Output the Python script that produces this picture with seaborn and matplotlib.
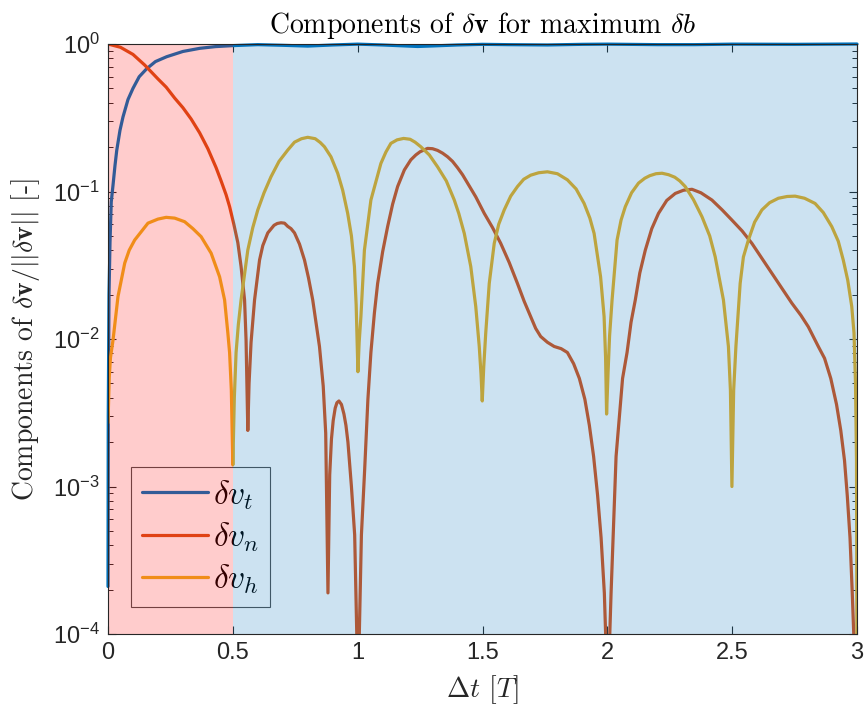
import numpy as np
import pandas as pd
import matplotlib
matplotlib.use("Agg")
import matplotlib.pyplot as plt
from matplotlib.ticker import LogLocator, NullLocator, FixedLocator, FixedFormatter
import seaborn as sns

# ---------------------------------------------------------------------------
# Normalised velocity-change components versus transfer time
# ---------------------------------------------------------------------------
t_t = [0.000, 0.001, 0.004, 0.008, 0.013, 0.020, 0.028, 0.035, 0.048, 0.060,
       0.080, 0.100, 0.125, 0.155, 0.190, 0.235, 0.300, 0.368, 0.430, 0.500,
       0.600, 0.700, 0.800, 0.900, 1.000, 1.100, 1.240, 1.300, 1.400, 1.500,
       1.600, 1.760, 1.900, 2.000, 2.200, 2.350, 2.500, 2.750, 2.900, 3.000]
dv_t = [0.00021, 0.003, 0.02, 0.045, 0.085, 0.11, 0.15, 0.19, 0.26, 0.32,
        0.42, 0.50, 0.60, 0.68, 0.76, 0.82, 0.89, 0.935, 0.96, 0.975,
        0.99, 0.98, 0.968, 0.985, 0.998, 0.985, 0.962, 0.97, 0.985, 0.995,
        0.99, 0.985, 0.995, 0.998, 0.99, 0.99, 0.998, 0.995, 0.998, 1.0]

t_n = [0.000, 0.050, 0.100, 0.147, 0.200, 0.233, 0.267, 0.300, 0.333, 0.367,
       0.400, 0.433, 0.453, 0.473, 0.487, 0.504, 0.520, 0.533, 0.547, 0.553,
       0.557, 0.560, 0.565, 0.573, 0.587, 0.607, 0.620, 0.640, 0.665, 0.678,
       0.693, 0.707, 0.720, 0.733, 0.747, 0.767, 0.787, 0.803, 0.820, 0.847,
       0.862, 0.872, 0.881, 0.888, 0.895, 0.902, 0.910, 0.917, 0.925, 0.935,
       0.945, 0.953, 0.961, 0.975, 0.988, 0.997, 1.0015, 1.006, 1.015, 1.028,
       1.041, 1.053, 1.067, 1.080, 1.100, 1.120, 1.140, 1.160, 1.187, 1.213,
       1.233, 1.250, 1.280, 1.300, 1.320, 1.340, 1.360, 1.380, 1.400, 1.420,
       1.440, 1.473, 1.507, 1.540, 1.573, 1.607, 1.640, 1.667, 1.693, 1.713,
       1.733, 1.760, 1.787, 1.815, 1.840, 1.865, 1.888, 1.910, 1.928, 1.945,
       1.961, 1.975, 1.988, 1.995, 2.001, 2.008, 2.015, 2.035, 2.061, 2.079,
       2.095, 2.112, 2.130, 2.152, 2.178, 2.205, 2.238, 2.272, 2.305, 2.339,
       2.375, 2.419, 2.460, 2.499, 2.540, 2.579, 2.620, 2.659, 2.700, 2.739,
       2.775, 2.805, 2.845, 2.870, 2.895, 2.918, 2.935, 2.950, 2.961, 2.972,
       2.981, 2.988, 2.992]
dv_n = [1.00, 0.95, 0.85, 0.72, 0.58, 0.51, 0.43, 0.37, 0.31, 0.25,
        0.195, 0.145, 0.118, 0.095, 0.079, 0.060, 0.045, 0.031, 0.0184, 0.0098,
        0.0045, 0.0024, 0.005, 0.0095, 0.0184, 0.0343, 0.043, 0.0524, 0.059, 0.0607,
        0.0614, 0.061, 0.058, 0.056, 0.0524, 0.044, 0.0343, 0.026, 0.0184, 0.0089,
        0.0048, 0.0023, 0.00019, 0.0012, 0.0021, 0.0028, 0.0034, 0.0037, 0.0038, 0.0036,
        0.0031, 0.0026, 0.0020, 0.0010, 0.00047, 0.00009, 0.00001, 0.00009, 0.00047, 0.0013,
        0.0039, 0.0081, 0.015, 0.0238, 0.039, 0.0578, 0.082, 0.108, 0.14, 0.164,
        0.177, 0.186, 0.196, 0.195, 0.19, 0.182, 0.172, 0.16, 0.145, 0.13,
        0.114, 0.092, 0.0711, 0.057, 0.0445, 0.033, 0.0238, 0.018, 0.0142, 0.0118,
        0.0104, 0.0095, 0.0089, 0.0086, 0.0081, 0.0068, 0.0054, 0.0039, 0.0026, 0.0016,
        0.00087, 0.00045, 0.00019, 0.00008, 0.00001, 0.00008, 0.00019, 0.0016, 0.0054, 0.0081,
        0.013, 0.0184, 0.028, 0.040, 0.056, 0.0711, 0.087, 0.097, 0.102, 0.1035,
        0.098, 0.0875, 0.075, 0.064, 0.054, 0.0445, 0.035, 0.0279, 0.022, 0.0175,
        0.0145, 0.0121, 0.0089, 0.0074, 0.0054, 0.0036, 0.0024, 0.0015, 0.00087, 0.00045,
        0.00019, 0.00009, 0.00003]

t_h = [0.000, 0.005, 0.010, 0.020, 0.040, 0.067, 0.085, 0.107, 0.133, 0.160,
       0.200, 0.233, 0.267, 0.307, 0.340, 0.373, 0.413, 0.447, 0.467, 0.480,
       0.487, 0.494, 0.500, 0.506, 0.513, 0.522, 0.533, 0.560, 0.580, 0.600,
       0.625, 0.653, 0.685, 0.720, 0.747, 0.775, 0.800, 0.830, 0.850, 0.867,
       0.893, 0.920, 0.940, 0.960, 0.975, 0.987, 0.994, 1.001, 1.006, 1.013,
       1.027, 1.053, 1.093, 1.113, 1.133, 1.158, 1.184, 1.210, 1.230, 1.253,
       1.287, 1.320, 1.355, 1.387, 1.405, 1.427, 1.453, 1.473, 1.487, 1.494,
       1.499, 1.505, 1.513, 1.527, 1.547, 1.565, 1.587, 1.613, 1.640, 1.665,
       1.693, 1.725, 1.760, 1.800, 1.840, 1.875, 1.907, 1.930, 1.947, 1.973,
       1.987, 1.993, 1.997, 2.003, 2.009, 2.019, 2.039, 2.055, 2.072, 2.097,
       2.125, 2.150, 2.170, 2.195, 2.219, 2.245, 2.270, 2.290, 2.312, 2.345,
       2.379, 2.410, 2.432, 2.465, 2.485, 2.493, 2.499, 2.506, 2.515, 2.532,
       2.545, 2.565, 2.590, 2.619, 2.650, 2.685, 2.720, 2.752, 2.790, 2.832,
       2.865, 2.899, 2.925, 2.945, 2.963, 2.979, 2.988, 2.994, 2.998, 3.000]
dv_h = [0.0027, 0.0055, 0.0075, 0.0098, 0.0194, 0.0327, 0.040, 0.0469, 0.0534, 0.061,
        0.065, 0.0668, 0.066, 0.0624, 0.056, 0.0494, 0.0382, 0.0264, 0.0184, 0.011,
        0.0081, 0.0045, 0.0014, 0.0040, 0.0081, 0.0125, 0.0184, 0.0401, 0.057, 0.075,
        0.098, 0.126, 0.16, 0.191, 0.216, 0.228, 0.233, 0.228, 0.215, 0.201,
        0.172, 0.133, 0.102, 0.0711, 0.050, 0.031, 0.017, 0.0060, 0.0095, 0.0142,
        0.040, 0.0875, 0.155, 0.185, 0.212, 0.224, 0.229, 0.226, 0.216, 0.201,
        0.177, 0.147, 0.118, 0.0875, 0.071, 0.052, 0.031, 0.0166, 0.0089, 0.0058,
        0.0038, 0.0065, 0.011, 0.0238, 0.0445, 0.060, 0.075, 0.093, 0.108, 0.121,
        0.129, 0.134, 0.136, 0.132, 0.12, 0.104, 0.083, 0.066, 0.052, 0.0264,
        0.0142, 0.0075, 0.0031, 0.0060, 0.0105, 0.0184, 0.0469, 0.064, 0.0789, 0.098,
        0.114, 0.123, 0.128, 0.132, 0.133, 0.130, 0.125, 0.118, 0.108, 0.088,
        0.0675, 0.050, 0.0361, 0.0184, 0.0089, 0.0045, 0.0010, 0.0045, 0.0089, 0.0238,
        0.036, 0.0469, 0.062, 0.075, 0.084, 0.090, 0.0925, 0.093, 0.090, 0.083,
        0.072, 0.0578, 0.046, 0.0343, 0.025, 0.0166, 0.011, 0.005, 0.0015, 0.00005]

labels = [r"$\delta v_t$", r"$\delta v_n$", r"$\delta v_h$"]
line_colors = [(0.000, 0.447, 0.741), (0.850, 0.325, 0.098), (0.929, 0.694, 0.125)]

x_ticks = [0, 0.5, 1, 1.5, 2, 2.5, 3]
x_tick_labels = ["0", "0.5", "1", "1.5", "2", "2.5", "3"]

df = pd.concat([
    pd.DataFrame({"t": t_t, "value": dv_t, "component": labels[0]}),
    pd.DataFrame({"t": t_n, "value": dv_n, "component": labels[1]}),
    pd.DataFrame({"t": t_h, "value": dv_h, "component": labels[2]}),
], ignore_index=True)

# ---------------------------------------------------------------------------
sns.set_style("ticks")
plt.rcParams.update({
    "font.family": ["Liberation Sans", "DejaVu Sans"],
    "mathtext.fontset": "custom",
    "mathtext.rm": "Liberation Sans",
    "mathtext.it": "Liberation Sans:italic",
    "mathtext.bf": "Liberation Sans:bold",
    "axes.edgecolor": "#262626",
    "axes.linewidth": 0.8,
    "xtick.color": "#262626",
    "ytick.color": "#262626",
})

fig = plt.figure(figsize=(8.65, 7.13), dpi=100)
ax = fig.add_axes([108 / 865, 1 - 634 / 713, 749 / 865, 590 / 713])

sns.lineplot(data=df, x="t", y="value", hue="component", hue_order=labels,
             palette=line_colors, estimator=None, sort=False, linewidth=2.3,
             ax=ax, legend=False)
ax.lines[0].set_clip_on(False)
for ln in ax.lines:
    ln.set_zorder(2)
    ln.set_solid_joinstyle("round")

ax.set_yscale("log")
ax.set_xlim(0, 3)
ax.set_ylim(1e-4, 1)

# shaded phases (drawn over the curves, translucent)
ax.axvspan(0, 0.5, facecolor=(1, 0, 0), alpha=0.2, edgecolor="none", zorder=6)
ax.axvspan(0.5, 3, facecolor=(0.0, 0.447, 0.741), alpha=0.2, edgecolor="none", zorder=6)

ax.xaxis.set_major_locator(FixedLocator(x_ticks))
ax.xaxis.set_major_formatter(FixedFormatter(x_tick_labels))
ax.xaxis.set_minor_locator(NullLocator())
ax.yaxis.set_major_locator(LogLocator(base=10, numticks=10))
ax.yaxis.set_minor_locator(LogLocator(base=10, subs=np.arange(2, 10), numticks=20))

ax.tick_params(which="both", direction="in", top=True, right=True)
ax.tick_params(which="major", length=6, width=0.8, labelsize=17, pad=6,
               labelcolor="#262626")
ax.tick_params(which="minor", length=3.5, width=0.7)
for s in ax.spines.values():
    s.set_visible(True)
    s.set_zorder(7)

handles = ax.lines[:3]
leg = ax.legend(handles, labels, loc="lower left", bbox_to_anchor=(0.0307, 0.0458),
                borderaxespad=0, frameon=True, fancybox=False, fontsize=24,
                handlelength=2.0, handletextpad=0.15, labelspacing=0.26,
                borderpad=0.32)
leg.get_frame().set_facecolor("none")
leg.get_frame().set_edgecolor("#262626")
leg.get_frame().set_linewidth(0.8)
leg.set_zorder(5)
for txt in leg.get_texts():
    txt.set_math_fontfamily("cm")
    txt.set_color("black")

ax.set_title(r"Components of $\delta\mathbf{v}$ for maximum $\delta b$",
             fontsize=20, fontfamily="cmr10", math_fontfamily="cm", pad=8,
             color="black")
ax.set_ylabel(r"Components of $\delta\mathbf{v}/||\delta\mathbf{v}||$ [-]",
              fontsize=20, fontfamily="cmr10", math_fontfamily="cm", color="#262626")
ax.set_xlabel(r"$\Delta t$ [$T$]", fontsize=20, fontfamily="cmr10",
              math_fontfamily="cm", color="#262626")
ax.yaxis.set_label_coords(-0.088, 0.5)
ax.xaxis.set_label_coords(0.5, -0.066)

fig.savefig("out.png", dpi=100)
